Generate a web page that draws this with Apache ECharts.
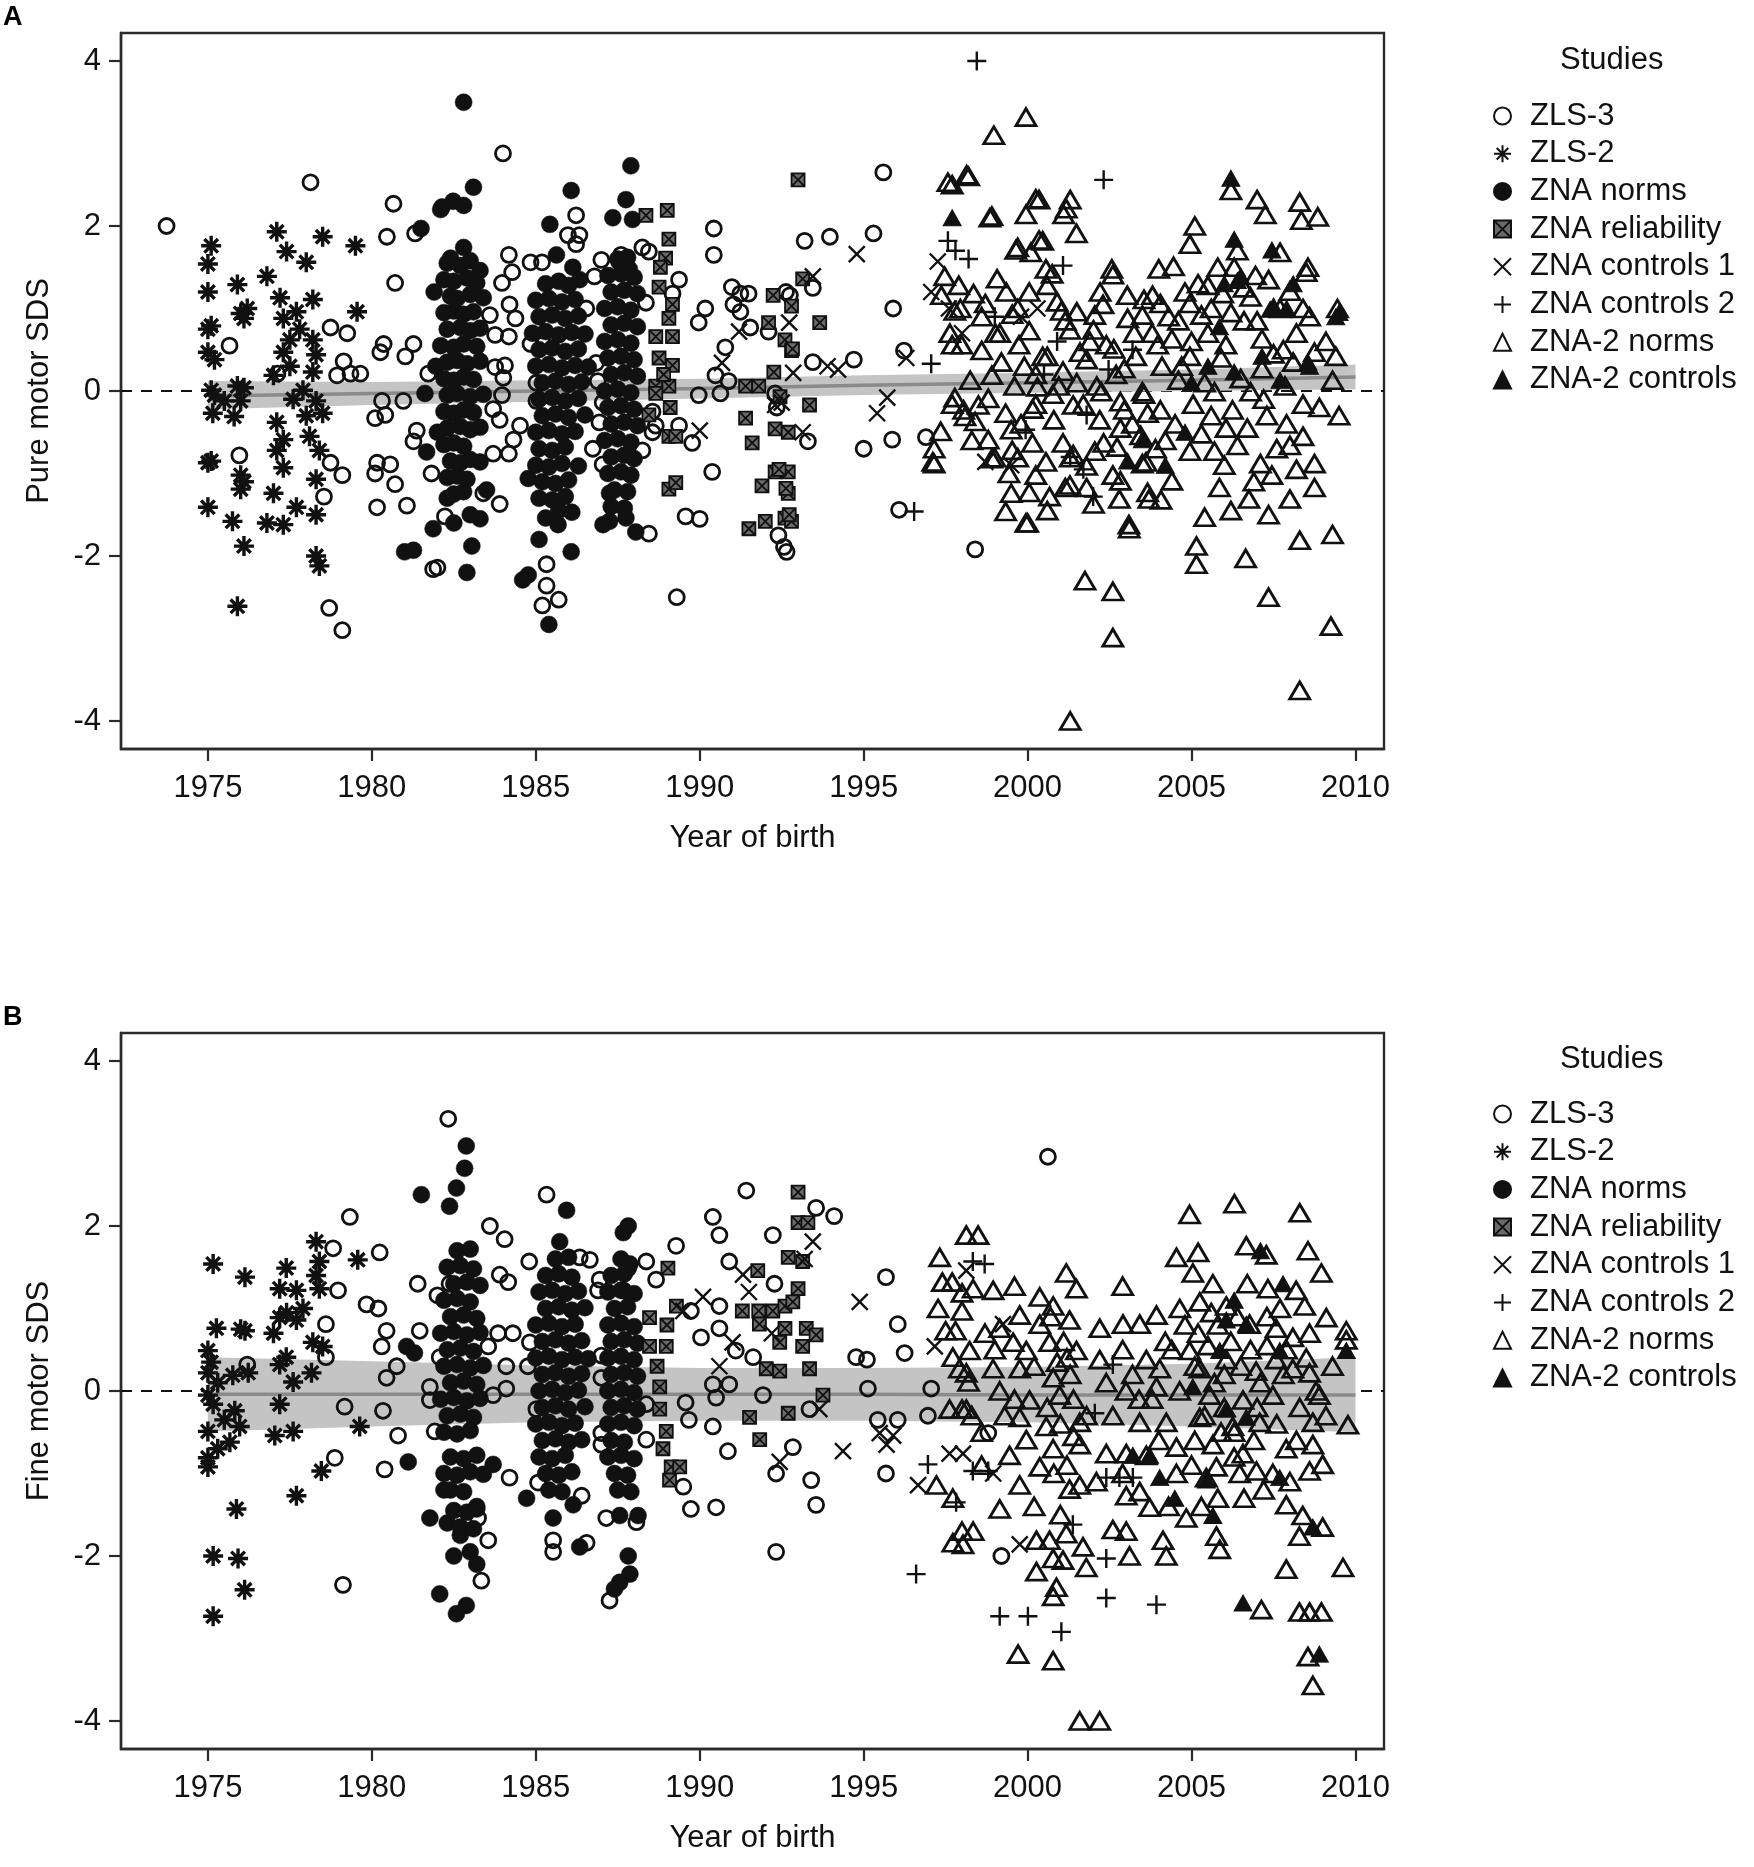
<!DOCTYPE html>
<html>
<head>
<meta charset="utf-8">
<script src="https://cdn.jsdelivr.net/npm/echarts@6/dist/echarts.min.js"></script>
<style>
html,body{margin:0;padding:0;background:#fff;}
#chart{width:1754px;height:1867px;}
</style>
</head>
<body>
<div id="chart"></div>
<script>
// ---------------- tick labels / categories ----------------
const xTicks = [1975, 1980, 1985, 1990, 1995, 2000, 2005, 2010];
const yTicks = [-4, -2, 0, 2, 4];
const studyNames = ['ZLS-3', 'ZLS-2', 'ZNA norms', 'ZNA reliability', 'ZNA controls 1', 'ZNA controls 2', 'ZNA-2 norms', 'ZNA-2 controls'];

// ---------------- Panel A: Pure motor SDS ----------------
const zls3A = [[1973.74,2.0],[1978.13,2.53],[1980.66,2.27],[1980.46,1.87],[1981.32,1.91],[1980.71,1.31],[1975.66,0.55],[1978.74,0.77],[1979.25,0.70],[1979.14,0.36],[1978.94,0.19],[1979.35,0.21],[1979.65,0.21],[1977.12,0.21],[1980.36,0.57],[1980.26,0.47],[1981.27,0.57],[1981.02,0.42],[1981.72,0.21],[1980.31,-0.12],[1980.96,-0.12],[1980.1,-0.33],[1980.41,-0.29],[1981.37,-0.48],[1981.27,-0.61],[1978.74,-0.87],[1979.1,-1.02],[1975.96,-0.78],[1980.16,-0.87],[1980.56,-0.89],[1980.1,-1.0],[1980.71,-1.13],[1981.82,-1.0],[1978.54,-1.28],[1980.16,-1.41],[1981.07,-1.39],[1982.23,-1.52],[1981.87,-2.16],[1978.7,-2.63],[1979.1,-2.9],[1982.0,-2.14],
[1984.0,2.88],[1986.23,2.13],[1985.98,1.89],[1986.33,1.89],[1986.23,1.78],[1984.18,1.65],[1984.84,1.56],[1985.19,1.56],[1984.28,1.44],[1983.97,1.31],[1987.0,1.59],[1986.79,1.39],[1987.6,1.65],[1988.25,1.74],[1988.45,1.69],[1990.43,1.97],[1990.43,1.65],[1989.37,1.35],[1989.17,1.18],[1988.36,1.07],[1990.98,1.26],[1991.24,1.18],[1991.49,1.18],[1991.03,1.05],[1991.24,0.96],[1991.54,0.77],[1990.17,1.0],[1989.97,0.83],[1990.78,0.53],[1990.48,0.19],[1989.97,-0.05],[1990.88,0.12],[1990.63,-0.03],[1992.3,-0.03],[1992.75,1.16],[1992.1,0.72],[1992.35,-0.2],[1989.77,-0.63],[1990.38,-0.98],[1989.57,-1.52],[1988.56,-0.25],[1988.66,-0.42],[1989.37,-0.42],[1992.65,-1.95],[1992.4,-1.75],[1983.6,0.92],[1984.2,1.05],[1984.38,0.88],[1983.76,0.68],[1984.18,0.66],[1984.84,0.57],[1985.24,0.57],[1983.76,0.29],[1984.01,0.16],[1984.06,0.31],[1983.97,-0.05],[1983.7,-0.22],[1983.9,-0.35],[1984.52,-0.42],[1984.32,-0.59],[1983.7,-0.76],[1984.18,-0.76],[1986.84,0.34],[1986.89,0.12],[1987.04,-0.14],[1986.94,-0.38],[1986.74,-0.7],[1985.02,0.1],[1985.02,-0.12],[1986.54,1.0],[1987.04,-0.89],[1983.4,-1.24],[1983.9,-1.37],[1985.33,-2.1],[1985.33,-2.36],[1985.78,-1.37],[1988.45,-1.73],[1988.25,-0.72],[1988.56,-0.5],[1985.7,-2.53],[1985.2,-2.6],[1989.3,-2.5],[1990.0,-1.55],
[1995.6,2.65],[1993.2,1.82],[1993.97,1.87],[1995.3,1.91],[1995.9,1.0],[1996.23,0.49],[1994.7,0.38],[1995.0,-0.7],[1995.87,-0.59],[1996.9,-0.56],[1996.08,-1.44],[1998.4,-1.92],[1992.57,-1.89],[1993.3,-0.61],[1993.45,0.35],[1992.63,1.2],[1993.45,1.25]];

const zls2A = [[1975.1,1.76],[1975.0,1.54],[1975.0,1.2],[1975.9,1.29],[1976.0,0.94],[1976.1,0.88],[1975.1,0.79],[1975.0,0.47],[1975.2,0.38],[1975.1,0.01],[1975.15,-0.27],[1975.9,0.06],[1976.0,-0.12],[1975.8,-0.31],[1975.0,-0.87],[1976.0,-1.02],[1976.0,-1.19],[1975.0,-1.41],[1975.75,-1.58],[1976.1,-1.88],[1975.9,-2.61],[1977.1,1.93],[1977.4,1.69],[1978.0,1.56],[1976.8,1.39],[1978.5,1.87],[1979.5,1.76],[1977.2,1.13],[1977.7,0.96],[1978.2,1.11],[1977.3,0.88],[1979.55,0.96],[1977.3,0.47],[1977.5,0.62],[1978.2,0.62],[1978.3,0.44],[1978.2,0.23],[1977.0,0.19],[1977.9,0.01],[1978.3,-0.12],[1978.5,-0.27],[1977.1,-0.38],[1977.3,-0.59],[1977.1,-0.72],[1978.1,-0.55],[1978.4,-0.72],[1977.3,-0.93],[1977.0,-1.24],[1977.7,-1.41],[1978.3,-1.07],[1978.3,-1.5],[1976.8,-1.6],[1977.3,-1.62],[1976.1,0.04],[1975.5,-0.12],[1978.4,-2.12],[1978.3,-2.0],[1975.0,0.75],[1975.2,-0.05],[1976.2,1.0],[1977.5,0.3],[1978.0,-0.3],[1977.6,-0.1],[1975.1,-0.85],[1976.1,-1.1],[1977.8,0.75]];

const znaNormsA = [[1982.8,3.5],[1983.1,2.47],[1982.8,2.25],[1982.14,2.23],[1986.08,2.43],[1987.9,2.73],[1985.43,2.02],[1987.35,2.1],[1987.75,2.32],[1987.95,2.08],[1985.63,1.65],[1982.8,1.74],[1982.4,1.61],[1983.3,1.46],[1986.13,1.5],[1986.34,1.35],[1987.55,1.56],[1987.85,1.48],[1981.5,1.97],[1982.1,2.2],[1982.48,2.3],[1981.62,-0.03],[1981.67,-0.74],[1981.0,-1.95],[1981.27,-1.93],[1981.87,-1.67],[1983.0,-1.5],[1983.05,-1.88],[1982.9,-2.2],[1984.77,-1.06],[1985.3,-1.54],[1985.68,-1.62],[1985.1,-1.8],[1986.08,-1.95],[1984.77,-2.23],[1985.4,-2.83],[1984.6,-2.29],[1987.25,-1.24],[1987.25,-1.58],[1987.75,-1.54],[1988.05,-1.71],[1987.05,-1.62],[1982.3,-1.3],[1982.5,-1.6],[1983.3,-1.55],[1983.5,-1.2],
[1982.3,1.55],[1982.7,1.52],[1983.0,1.58],[1982.2,1.35],[1982.5,1.33],[1982.9,1.37],[1983.2,1.31],[1982.4,1.15],[1982.6,1.12],[1983.0,1.17],[1983.4,1.13],[1982.2,0.95],[1982.5,0.97],[1982.8,0.93],[1983.1,0.96],[1982.3,0.75],[1982.7,0.77],[1983.0,0.73],[1983.3,0.76],[1982.1,0.55],[1982.5,0.53],[1982.8,0.57],[1983.2,0.54],[1982.3,0.35],[1982.6,0.37],[1982.9,0.33],[1983.3,0.36],[1982.2,0.15],[1982.5,0.13],[1982.8,0.17],[1983.1,0.14],[1982.3,-0.05],[1982.6,-0.03],[1983.0,-0.07],[1983.4,-0.04],[1982.2,-0.25],[1982.5,-0.27],[1982.8,-0.23],[1983.1,-0.26],[1982.3,-0.45],[1982.7,-0.43],[1983.0,-0.47],[1983.3,-0.44],[1982.2,-0.65],[1982.5,-0.63],[1982.8,-0.67],[1982.4,-0.85],[1982.7,-0.87],[1983.0,-0.83],[1983.3,-0.86],[1982.3,-1.05],[1982.6,-1.03],[1982.9,-1.07],[1982.5,-1.25],[1982.8,-1.22],[1981.9,1.2],[1981.95,0.3],[1982.0,-0.5],
[1985.3,1.3],[1985.7,1.33],[1986.0,1.28],[1985.0,1.1],[1985.4,1.12],[1985.8,1.08],[1986.2,1.11],[1985.1,0.9],[1985.5,0.92],[1985.9,0.88],[1986.3,0.91],[1984.9,0.7],[1985.3,0.72],[1985.7,0.68],[1986.1,0.71],[1986.5,0.69],[1985.1,0.5],[1985.5,0.52],[1985.9,0.48],[1986.3,0.51],[1985.0,0.3],[1985.4,0.32],[1985.8,0.28],[1986.2,0.31],[1986.6,0.29],[1985.2,0.1],[1985.6,0.12],[1986.0,0.08],[1986.4,0.11],[1985.1,-0.1],[1985.5,-0.08],[1985.9,-0.12],[1986.3,-0.09],[1985.2,-0.3],[1985.6,-0.28],[1986.0,-0.32],[1986.5,-0.29],[1985.0,-0.5],[1985.4,-0.48],[1985.8,-0.52],[1986.2,-0.49],[1985.1,-0.7],[1985.5,-0.72],[1985.9,-0.68],[1985.0,-0.9],[1985.4,-0.92],[1985.8,-0.88],[1986.3,-0.91],[1985.2,-1.1],[1985.6,-1.12],[1986.0,-1.08],[1985.1,-1.3],[1985.5,-1.32],[1985.9,-1.28],[1985.7,-1.45],[1986.1,-1.47],
[1987.5,1.6],[1987.8,1.62],[1987.2,1.4],[1987.6,1.42],[1988.0,1.38],[1987.3,1.2],[1987.7,1.22],[1988.1,1.18],[1987.1,1.0],[1987.5,1.02],[1987.9,0.98],[1987.3,0.8],[1987.7,0.82],[1988.1,0.78],[1987.1,0.6],[1987.5,0.62],[1987.9,0.58],[1987.2,0.4],[1987.6,0.42],[1988.0,0.38],[1987.3,0.2],[1987.7,0.22],[1988.1,0.18],[1987.1,0.0],[1987.5,0.02],[1987.9,-0.02],[1987.2,-0.2],[1987.6,-0.18],[1988.0,-0.22],[1987.3,-0.4],[1987.7,-0.38],[1988.1,-0.42],[1987.1,-0.6],[1987.5,-0.58],[1987.9,-0.62],[1987.3,-0.8],[1987.7,-0.78],[1988.0,-0.82],[1987.2,-1.0],[1987.6,-0.98],[1987.9,-1.02],[1987.4,-1.2],[1987.8,-1.22],[1987.3,-1.4],[1987.7,-1.42]];

const znaRelA = [[1988.36,2.13],[1989.01,2.19],[1989.06,1.84],[1988.96,1.61],[1988.76,1.26],[1989.17,1.05],[1989.06,0.88],[1988.66,0.66],[1989.17,0.66],[1988.76,0.4],[1989.17,0.31],[1988.66,0.06],[1989.06,0.06],[1988.66,-0.03],[1988.45,-0.29],[1989.06,-0.55],[1989.27,-0.55],[1989.06,-1.19],[1989.27,-1.11],[1993.0,2.56],[1992.24,1.16],[1992.8,1.03],[1992.1,0.83],[1992.6,0.62],[1992.8,0.49],[1992.26,0.23],[1991.4,0.06],[1991.8,0.06],[1992.45,-0.07],[1991.4,-0.33],[1991.6,-0.63],[1992.3,-0.46],[1992.7,-0.5],[1992.3,-0.98],[1992.7,-0.98],[1991.9,-1.15],[1992.7,-1.24],[1991.5,-1.67],[1992.0,-1.58],[1992.6,-1.54],[1992.8,-1.58],[1993.14,1.36],[1993.66,0.83],[1992.83,0.51],[1993.35,-0.17],[1992.42,-0.95],[1992.63,-1.18],[1992.73,-1.5],[1988.9,0.2],[1989.1,-0.2],[1988.8,1.5]];

const znaCtl1A = [[1991.2,0.72],[1990.68,0.34],[1990.0,-0.48],[1992.5,-0.14],[1994.79,1.66],[1993.45,1.39],[1992.73,0.83],[1992.85,0.22],[1994.22,0.26],[1995.41,-0.27],[1995.72,-0.08],[1992.3,-0.17],[1993.14,-0.5],[1997.26,1.57],[1997.06,1.2],[1998.71,-0.86],[1997.6,1.0],[1998.0,0.7],[1999.8,0.9],[2000.3,1.0],[1996.3,0.4],[1993.9,0.3],[1999.5,-0.9]];

const znaCtl2A = [[1998.45,4.0],[2002.32,2.56],[1997.57,1.82],[2001.08,1.52],[1997.06,0.33],[2002.47,0.26],[1999.94,-0.47],[2001.8,-0.29],[2002.0,-1.28],[1996.54,-1.46],[2001.7,-0.95],[1997.8,1.7],[1998.2,1.6],[1999.0,0.9],[2000.5,0.2],[2003.2,0.5],[2001.3,-0.8],[2000.9,0.6]];

const zna2NormsA = [[1998.97,3.1],[1999.95,3.32],[1997.7,2.5],[1998.2,2.6],[1999.95,2.14],[1998.85,2.1],[2000.35,2.32],[2001.3,2.32],[2001.1,2.14],[2000.35,1.83],[1999.7,1.74],[2000.1,1.68],[2000.75,1.42],[2002.6,1.41],[2003.55,1.11],[2004.45,1.51],[2005.1,2.0],[2006.2,2.43],[2007.0,2.32],[2007.25,2.14],[2008.3,2.29],[2008.35,2.07],[2008.85,2.11],[2008.5,1.44],[2009.45,1.0],[2007.7,1.68],[2006.4,1.7],[2004.95,1.78],[2005.95,1.18],[2006.95,1.4],[2004.0,1.48],[2003.05,0.88],[2002.05,0.92],[2001.5,0.96],[2000.9,1.08],[2000.6,1.28],[1999.7,1.0],[1999.35,1.2],[1998.35,1.18],[1997.9,1.28],[1997.95,1.0],[1997.7,0.56],[1998.25,0.13],[1998.6,0.49],[1999.15,0.7],[2000.05,0.73],[2000.6,0.42],[2001.15,0.85],[2001.6,0.47],[2002.4,0.56],[2003.3,0.42],[2004.4,0.63],[2004.95,0.42],[2005.5,0.7],[2006.05,0.56],[2006.6,0.85],[2007.15,0.63],[2007.7,1.0],[2008.2,0.7],[2008.75,0.47],[2009.4,0.42],[2009.3,0.13],[2009.5,-0.3],[2008.4,-0.16],[2007.85,0.06],[2007.3,-0.3],[2006.8,-0.01],[2006.25,-0.23],[2005.7,-0.01],[2005.05,-0.16],[2004.6,0.13],[2004.05,-0.23],[2003.5,-0.01],[2002.95,-0.23],[2002.25,-0.01],[2001.7,-0.16],[2000.95,0.06],[2000.25,-0.16],[1999.6,0.06],[1998.8,-0.09],[1998.05,-0.23],[1997.7,-0.16],[1997.15,-0.88],[1998.4,-0.37],[1998.8,-0.59],[1999.5,-0.47],[1999.0,-0.81],[1999.7,-0.81],[2000.25,-1.02],[1999.5,-1.24],[2000.0,-1.6],[2000.6,-1.45],[2001.15,-1.17],[2001.3,-0.81],[2002.05,-0.73],[2001.8,-1.17],[2002.6,-1.02],[2002.8,-1.31],[2003.1,-1.67],[2003.5,-0.88],[2003.7,-1.31],[2004.4,-1.09],[2004.95,-0.73],[2005.3,-0.52],[2005.7,-0.73],[2006.05,-0.45],[2006.4,-0.66],[2005.85,-1.17],[2005.15,-1.88],[2005.15,-2.1],[2005.4,-1.53],[2006.65,-2.03],[2007.35,-2.5],[2007.45,-1.02],[2007.1,-0.88],[2008.0,-0.66],[2008.2,-0.95],[2008.75,-1.17],[2008.75,-0.88],[2008.3,-1.81],[2008.3,-3.63],[2009.3,-1.74],[2009.25,-2.85],[2008.0,-1.31],[2002.6,-2.99],[2002.6,-2.43],[2001.75,-2.3],[2001.3,-4.0],[2007.35,-1.5],[2006.75,-1.31],[2006.2,-1.45],[1997.15,-0.7],[1997.35,-0.49],[2000.25,0.2],[2002.95,0.27],[2004.1,0.3],[2007.15,0.27],[2004.95,1.06],[2005.5,1.28],[2006.3,1.5],[2006.8,1.14],[2007.35,1.35],[2008.0,1.21],[2008.55,1.5],[2005.3,0.92],[2003.5,0.92],[2004.6,0.85],[2004.05,1.06],
[1997.57,2.53],[1998.14,2.62],[1998.91,2.12],[2000.25,2.33],[2001.18,2.21],[2001.49,1.91],[1999.64,1.71],[2000.46,1.82],[1999.07,1.36],[2000.56,1.48],[2002.57,1.48],[2002.21,1.2],[2003.04,1.16],[2003.81,1.16],[1997.47,1.39],[1997.37,1.16],[1997.63,0.7],[1997.78,0.97],[1998.71,1.06],[1999.53,0.93],[2000.05,1.2],[2001.03,0.97],[2001.29,0.74],[2002.01,0.74],[2002.63,0.51],[2003.25,0.7],[2003.97,0.56],[1997.99,0.56],[1999.02,0.7],[1999.74,0.56],[2000.46,0.42],[2001.08,0.24],[2001.8,0.38],[1998.91,0.19],[1997.78,-0.08],[1998.5,-0.17],[1999.33,-0.27],[2000.15,-0.22],[2000.77,-0.04],[2001.39,-0.17],[2002.11,0.06],[2002.83,-0.13],[2003.55,-0.04],[2003.66,-0.27],[2002.83,-0.45],[1998.09,-0.31],[1998.91,-0.82],[1999.53,-0.72],[2000.15,-0.63],[2000.56,-0.86],[2001.08,-0.63],[2001.39,-0.77],[2001.8,-0.91],[2002.32,-0.63],[2002.73,-0.68],[2003.45,-0.54],[2003.61,-0.86],[2002.83,-1.09],[1999.43,-1.0],[2000.05,-1.23],[2000.67,-1.28],[2001.29,-1.14],[2002.01,-1.37],[2003.66,-1.23],[2004.07,-1.32],[1999.33,-1.46],[1999.95,-1.6],[2003.09,-1.62],[1997.11,-0.86],
[2004.3,0.9],[2004.7,0.3],[2005.0,0.6],[2005.4,0.1],[2005.6,-0.3],[2005.9,0.4],[2006.2,0.95],[2006.5,0.15],[2006.7,-0.45],[2007.0,0.85],[2007.2,-0.1],[2007.5,0.45],[2007.9,-0.4],[2008.1,0.35],[2008.4,-0.55],[2008.6,0.9],[2008.9,-0.2],[2009.1,0.6],[2004.2,-0.6],[2004.5,-0.4],[2005.2,1.3],[2005.8,1.5],[2006.0,-0.9],[2006.9,-1.1],[2007.6,-0.7],[2004.8,1.2],[2003.8,0.7],[2003.2,-0.4],[2003.9,-0.7],[2002.7,0.2],[2002.2,-0.35],[2001.5,0.1],[2000.3,0.05],[1999.9,0.3],[1999.2,0.35],[1998.6,0.9],[1998.3,-0.6],[1999.8,-0.4],[2000.8,-0.35],[2001.9,0.6],[2002.3,1.05],[2005.6,1.0],[2006.6,1.25],[2007.8,0.5],[2008.4,1.0]];

const zna2CtlA = [[2006.2,2.58],[2007.45,1.71],[2009.5,0.95],[2008.55,0.35],[2006.4,1.34],[2005.85,0.78],[2007.15,0.42],[2007.7,0.13],[2003.5,-0.59],[2007.4,0.99],[2006.3,0.23],[1997.7,2.1],[2005.5,0.3],[2004.8,-0.5],[2003.05,-0.85],[2007.9,1.0],[2008.6,0.3],[2006.0,1.3],[2005.0,0.1],[2004.2,-0.9],[2006.3,1.84],[2006.5,1.39],[2007.5,1.03],[2009.4,0.9],[2008.1,1.3]];

// regression fit and confidence band, panel A
const bandYearsA = [1975, 1980, 1985, 1990, 1995, 2000, 2005, 2010];
const fitA  = [-0.06, -0.03, 0.0, 0.03, 0.07, 0.1, 0.13, 0.17];
const lowA  = [-0.22, -0.17, -0.13, -0.09, -0.05, -0.02, 0.0, 0.02];
const highA = [0.12, 0.11, 0.13, 0.15, 0.19, 0.22, 0.26, 0.32];

// ---------------- Panel B: Fine motor SDS ----------------
const zls3B = [[1982.33,3.3],[1979.33,2.11],[1978.82,1.73],[1980.24,1.68],[1978.97,1.22],[1979.84,1.05],[1980.2,1.0],[1978.6,0.81],[1980.45,0.73],[1980.3,0.54],[1978.6,0.41],[1980.76,0.3],[1980.45,0.16],[1979.17,-0.19],[1980.34,-0.24],[1980.8,-0.54],[1978.87,-0.81],[1980.39,-0.95],[1979.12,-2.35],[1983.6,2.0],[1984.05,1.84],[1984.8,1.57],[1985.33,2.38],[1983.9,1.41],[1984.16,1.32],[1981.4,1.3],[1982.0,1.16],[1982.37,1.3],[1981.46,0.73],[1983.85,0.7],[1984.3,0.7],[1984.82,0.59],[1983.55,0.54],[1984.1,0.3],[1984.76,0.3],[1984.1,0.03],[1983.7,-0.05],[1982.07,0.41],[1981.77,0.05],[1981.77,-0.11],[1981.92,-0.49],[1985.02,-0.22],[1984.2,-1.05],[1985.07,-1.11],[1983.55,-1.81],[1983.34,-2.3],[1985.53,-1.81],[1985.53,-1.95],[1983.24,-1.54],[1976.2,0.32],
[1991.42,2.43],[1990.4,2.11],[1990.6,1.89],[1992.23,1.89],[1993.55,2.22],[1994.1,2.12],[1989.28,1.76],[1988.37,1.57],[1990.9,1.57],[1992.28,1.3],[1995.68,1.38],[1986.34,1.62],[1986.65,1.59],[1986.95,1.35],[1986.9,1.22],[1988.67,1.35],[1989.73,0.97],[1990.04,0.65],[1990.6,1.03],[1990.6,0.76],[1991.1,0.49],[1991.63,0.41],[1996.04,0.81],[1996.25,0.46],[1994.77,0.41],[1995.1,0.38],[1987.0,0.43],[1987.0,0.16],[1990.4,0.08],[1990.9,0.08],[1990.5,-0.08],[1991.93,-0.05],[1993.35,-0.22],[1995.13,0.03],[1997.06,0.03],[1996.96,-0.3],[1989.57,-0.14],[1989.67,-0.35],[1990.4,-0.43],[1995.43,-0.35],[1996.04,-0.35],[1990.86,-0.73],[1992.84,-0.68],[1992.33,-1.0],[1993.4,-1.08],[1993.55,-1.38],[1995.68,-1.0],[1989.73,-1.43],[1990.5,-1.41],[1989.5,-1.16],[1992.33,-1.95],[1987.0,-0.51],[1987.0,-0.65],[1986.4,-1.27],[1987.15,-1.54],[1986.55,-1.84],[1988.07,-1.59],[1987.25,-2.54],[1988.37,-0.16],[1988.37,-0.59],[1987.82,1.49],[1987.67,1.22],
[2000.62,2.84],[1998.8,-0.51],[1999.2,-2.0]];

const zls2B = [[1975.16,1.54],[1976.13,1.38],[1975.26,0.76],[1976.13,0.73],[1975.0,0.49],[1975.0,0.22],[1975.76,0.19],[1976.23,0.22],[1975.0,-0.05],[1975.16,-0.16],[1975.82,-0.24],[1975.97,-0.43],[1975.0,-0.49],[1975.67,-0.62],[1975.0,-0.81],[1975.0,-0.92],[1975.87,-1.43],[1975.16,-2.0],[1975.92,-2.03],[1976.12,-2.41],[1975.16,-2.73],[1978.3,1.81],[1977.39,1.49],[1978.4,1.57],[1977.19,1.24],[1977.7,1.22],[1978.4,1.24],[1977.19,0.89],[1977.7,0.86],[1978.2,0.59],[1978.5,0.54],[1977.19,0.32],[1977.39,0.41],[1977.6,0.11],[1978.16,0.22],[1977.19,-0.16],[1977.04,-0.54],[1977.6,-0.49],[1978.46,-0.97],[1977.7,-1.27],[1979.57,1.59],[1979.63,-0.43],[1975.3,0.1],[1975.5,-0.35],[1977.0,0.7],[1977.9,1.0],[1978.3,1.4],[1977.4,0.95],[1975.1,0.35],[1975.3,-0.7],[1976.0,0.75]];

const znaNormsB = [[1982.88,2.97],[1982.83,2.7],[1982.58,2.46],[1981.51,2.38],[1982.37,2.24],[1981.06,0.54],[1981.3,0.46],[1981.11,-0.86],[1983.7,-0.89],[1981.77,-1.54],[1982.07,-2.46],[1982.58,-2.7],[1982.88,-2.6],[1984.72,-1.3],[1985.53,-1.54],[1985.94,2.19],[1987.82,2.0],[1987.67,1.92],[1985.73,1.81],[1987.87,1.54],[1986.14,-1.38],[1986.34,-1.89],[1987.56,-1.51],[1988.12,-1.51],[1987.82,-2.0],[1987.87,-2.22],[1987.56,-2.32],[1987.4,-2.4],[1982.3,-1.6],[1982.7,-1.75],[1983.0,-1.95],[1983.2,-2.1],[1982.5,-2.0],[1982.2,-1.2],[1983.2,-1.4],
[1982.6,1.7],[1983.0,1.72],[1982.3,1.5],[1982.7,1.52],[1983.1,1.48],[1982.5,1.3],[1982.9,1.32],[1983.3,1.28],[1982.2,1.1],[1982.6,1.12],[1983.0,1.08],[1982.4,0.9],[1982.8,0.92],[1983.2,0.88],[1982.1,0.7],[1982.5,0.72],[1982.9,0.68],[1983.3,0.71],[1982.3,0.5],[1982.7,0.52],[1983.1,0.48],[1982.2,0.3],[1982.6,0.32],[1983.0,0.28],[1983.4,0.31],[1982.4,0.1],[1982.8,0.12],[1983.2,0.08],[1982.1,-0.1],[1982.5,-0.08],[1982.9,-0.12],[1983.3,-0.09],[1982.3,-0.3],[1982.7,-0.28],[1983.1,-0.32],[1982.2,-0.5],[1982.6,-0.52],[1983.0,-0.48],[1982.4,-0.8],[1982.8,-0.82],[1983.2,-0.78],[1982.2,-1.0],[1982.6,-1.02],[1983.0,-0.98],[1983.4,-1.01],[1982.4,-1.2],[1982.8,-1.22],[1982.5,-1.45],[1982.9,-1.47],[1983.2,-1.43],[1982.7,-1.65],[1983.1,-1.67],
[1985.6,1.6],[1986.0,1.62],[1985.3,1.4],[1985.7,1.42],[1986.1,1.38],[1985.1,1.2],[1985.5,1.22],[1985.9,1.18],[1986.3,1.21],[1985.3,1.0],[1985.7,1.02],[1986.1,0.98],[1986.5,1.01],[1985.0,0.8],[1985.4,0.82],[1985.8,0.78],[1986.2,0.81],[1985.2,0.6],[1985.6,0.62],[1986.0,0.58],[1986.4,0.61],[1985.0,0.4],[1985.4,0.42],[1985.8,0.38],[1986.2,0.41],[1986.6,0.39],[1985.2,0.2],[1985.6,0.22],[1986.0,0.18],[1986.4,0.21],[1985.1,0.0],[1985.5,0.02],[1985.9,-0.02],[1986.3,0.01],[1985.2,-0.2],[1985.6,-0.18],[1986.0,-0.22],[1986.5,-0.19],[1985.0,-0.4],[1985.4,-0.38],[1985.8,-0.42],[1986.2,-0.39],[1985.2,-0.6],[1985.6,-0.58],[1986.0,-0.62],[1986.4,-0.59],[1985.1,-0.8],[1985.5,-0.82],[1985.9,-0.78],[1985.3,-1.0],[1985.7,-1.02],[1986.1,-0.98],[1985.4,-1.2],[1985.8,-1.22],
[1987.6,1.6],[1987.3,1.4],[1987.7,1.42],[1987.2,1.2],[1987.6,1.22],[1988.0,1.18],[1987.4,1.0],[1987.8,1.02],[1987.2,0.8],[1987.6,0.82],[1988.0,0.78],[1987.3,0.6],[1987.7,0.62],[1988.1,0.58],[1987.2,0.4],[1987.6,0.42],[1988.0,0.38],[1987.3,0.2],[1987.7,0.22],[1988.1,0.18],[1987.2,0.0],[1987.6,0.02],[1988.0,-0.02],[1987.3,-0.2],[1987.7,-0.18],[1988.1,-0.22],[1987.2,-0.4],[1987.6,-0.38],[1988.0,-0.42],[1987.3,-0.6],[1987.7,-0.62],[1987.2,-0.8],[1987.6,-0.78],[1988.0,-0.82],[1987.4,-1.0],[1987.8,-1.02],[1987.5,-1.2],[1987.9,-1.22]];

const znaRelB = [[1993.0,2.41],[1993.0,2.04],[1993.3,2.04],[1992.7,1.62],[1993.14,1.57],[1991.77,1.46],[1989.03,1.49],[1993.0,1.24],[1991.3,0.97],[1991.8,0.97],[1992.23,0.97],[1992.6,1.03],[1992.84,1.08],[1991.82,0.81],[1992.6,0.76],[1993.25,0.76],[1993.55,0.68],[1992.44,0.59],[1993.14,0.54],[1992.03,0.27],[1992.44,0.24],[1993.35,0.27],[1993.76,-0.05],[1991.52,-0.32],[1992.7,-0.27],[1991.83,-0.59],[1988.47,0.89],[1988.98,0.54],[1989.29,1.03],[1988.47,0.54],[1988.78,0.05],[1988.78,-0.22],[1988.98,-0.49],[1988.88,-0.7],[1989.13,-0.92],[1989.08,-1.08],[1989.39,-0.92],[1988.7,0.3],[1989.0,0.8]];

const znaCtl1B = [[1993.45,1.81],[1991.32,1.41],[1994.88,1.08],[1990.1,1.14],[1991.0,0.59],[1990.6,0.3],[1993.65,-0.22],[1992.44,-0.86],[1994.37,-0.73],[1995.49,-0.51],[1995.9,-0.54],[1995.7,-0.65],[1997.17,0.54],[1996.66,-1.14],[1997.62,-0.76],[1989.5,0.97],[1998.13,1.46],[1999.25,0.81],[1998.03,-0.76],[1998.95,-1.0],[1999.76,-1.86],[1992.2,0.7],[1991.5,1.2],[1993.2,1.6]];

const znaCtl2B = [[1996.6,-2.22],[1996.96,-0.89],[1998.33,1.57],[1998.33,-0.97],[1997.82,-1.35],[1998.69,1.54],[2002.6,0.32],[2002.05,-0.27],[2002.4,-1.05],[2002.8,-1.05],[2003.21,-1.05],[2002.4,-2.03],[2001.38,-1.62],[2002.4,-2.51],[2003.93,-2.59],[1999.15,-2.73],[2000.01,-2.73],[2001.03,-2.92],[1998.8,-0.97]];

const zna2NormsB = [[1998.13,1.89],[1997.32,1.62],[1997.4,1.32],[1997.7,1.32],[1998.0,1.19],[1997.27,1.0],[1998.0,0.97],[1997.5,0.73],[1997.8,0.73],[1997.72,0.41],[1997.92,0.27],[1998.2,0.11],[1997.62,-0.22],[1998.0,-0.22],[1998.3,-0.3],[1997.22,-1.14],[1997.72,-1.3],[1998.0,-1.7],[1997.72,-1.84],
[1998.49,1.89],[2001.18,1.43],[2001.49,1.24],[2002.9,1.27],[2004.94,2.14],[2006.31,2.27],[2008.3,2.16],[2004.54,1.62],[2005.2,1.68],[2006.67,1.76],[2007.28,1.65],[2008.55,1.7],[2008.96,1.43],[2005.04,1.43],[2005.65,1.3],[2007.33,1.24],[2008.19,1.22],[2008.45,1.03],[2009.11,0.89],[2009.72,0.73],[2009.72,0.62],[1998.34,1.24],[1998.95,1.22],[1999.6,1.27],[2000.37,1.14],[2000.78,1.03],[1999.76,0.92],[2000.37,0.81],[2001.28,0.86],[1999.15,0.76],[1999.56,0.59],[1999.96,0.49],[2000.67,0.59],[2002.2,0.76],[2002.91,0.81],[2003.42,0.81],[2003.93,0.92],[2004.64,1.0],[2005.25,1.08],[2006.06,1.03],[2006.77,0.81],[2007.58,0.76],[2008.09,0.65],[2008.6,0.7],[1998.23,0.49],[1998.13,0.22],[1998.95,0.27],[1999.76,0.27],[2000.78,0.16],[2001.49,0.49],[2002.2,0.38],[2003.62,0.38],[2004.03,0.27],[2004.94,0.49],[2005.25,0.27],[2006.06,0.38],[2006.97,0.24],[2007.58,0.38],[2008.09,0.27],[2008.6,0.22],[1999.15,0.0],[2000.06,-0.11],[2000.98,-0.05],[2003.0,0.0],[2003.93,0.05],[2004.64,0.0],[2005.55,-0.05],[2006.57,-0.11],[2007.48,-0.05],[2008.9,-0.05],[1998.13,-0.22],[1999.76,-0.32],[2000.57,-0.43],[2001.59,-0.38],[2003.42,-0.38],[2004.23,-0.38],[2005.25,-0.32],[2006.26,-0.43],[2007.08,-0.38],[2008.7,-0.38],[2009.77,-0.41],[1999.96,-0.59],[2000.78,-0.7],[2001.59,-0.65],[2002.4,-0.76],[2003.01,-0.76],[2003.62,-0.78],[2004.54,-0.68],[2005.65,-0.65],[2006.57,-0.76],[2007.89,-0.7],[2008.7,-0.65],[2009.0,-0.89],[1999.45,-0.78],[1999.76,-1.14],[2000.37,-0.92],[2001.28,-1.19],[2001.59,-1.14],[2003.01,-1.27],[2003.42,-1.22],[2004.54,-1.0],[2005.45,-1.05],[2005.76,-0.92],[2006.47,-1.0],[2006.98,-0.97],[2007.48,-1.0],[2008.6,-0.97],[2007.89,-1.38],[2008.39,-1.51],[2009.0,-1.65],[2008.29,-1.76],[2003.72,-1.41],[2004.84,-1.54],[2002.6,-1.68],[2003.01,-1.7],[2004.13,-1.81],[2005.76,-1.76],[2005.86,-1.92],[1999.15,-1.43],[1998.34,-1.7],[1998.03,-1.86],[2000.27,-1.81],[2000.67,-1.81],[2001.18,-1.73],[2001.69,-1.89],[2000.78,-2.03],[2001.08,-2.05],[2001.79,-2.14],[2000.27,-2.19],[2003.11,-2.0],[2004.23,-2.0],[2000.88,-2.38],[2000.78,-2.49],[2007.89,-2.16],[2009.62,-2.14],[2007.13,-2.65],[2008.29,-2.68],[2008.6,-2.68],[2008.96,-2.68],[2008.55,-3.22],[2008.7,-3.57],[1999.71,-3.19],[2000.78,-3.27],[2001.59,-4.0],[2002.2,-4.0],
[2000.9,0.35],[2001.1,0.6],[2001.3,0.2],[2000.6,-0.2],[2001.0,-0.4],[2001.2,-0.9],[2000.8,-1.0],[2001.4,-0.55],[2005.2,0.7],[2005.5,0.55],[2005.8,0.8],[2006.2,0.6],[2006.5,0.3],[2005.7,0.1],[2006.0,-0.2],[2006.9,-0.6],[2007.3,0.55],[2005.1,-0.6],[2005.9,-0.5],[2006.3,-0.8],[2007.1,0.1],[2004.2,0.6],[1998.6,-0.5],[1999.3,-0.3],[1998.7,0.7],[2002.6,-0.3],[2003.2,0.2],[2003.8,-0.1],[2007.8,0.2],[2008.3,-0.2],[2009.3,0.3],[2009.1,-0.3],
[2004.8,0.8],[2005.1,0.3],[2005.4,-0.3],[2005.6,0.95],[2006.0,0.2],[2006.3,-0.5],[2006.4,0.9],[2006.8,0.5],[2007.0,-0.2],[2007.3,0.9],[2007.6,-0.4],[2007.9,0.5],[2008.2,-0.6],[2008.5,0.4],[2008.8,0.0],[2005.0,-0.9],[2005.8,-1.3],[2006.6,-1.3],[2007.2,-1.2],[2004.4,0.5],[2004.0,-0.6],[2003.4,-0.1],[2002.9,0.5],[2002.4,0.1],[2001.8,-0.3],[2001.2,0.4],[2000.7,0.9],[2000.2,0.3],[1999.6,-0.1],[1999.0,0.5],[1998.6,-0.9],[2000.2,-1.4],[2001.0,-1.5],[2002.1,-1.1],[2002.9,-1.0],[2004.3,-1.4],[2005.3,-1.4],[2001.4,-0.1],[2006.7,1.3],[2007.7,1.0],[2008.0,-1.1]];

const zna2CtlB = [[2007.79,1.3],[2009.72,0.49],[2003.72,-0.78],[2003.21,-0.78],[2004.03,-1.05],[2004.49,-1.3],[2005.65,-1.51],[2006.57,-2.57],[2008.9,-3.19],[2006.06,0.86],[2006.67,0.81],[2005.86,0.49],[2007.69,0.49],[2005.04,0.05],[2006.06,-0.22],[2006.67,-0.32],[2005.45,-1.08],[2007.69,-1.05],[2008.7,-1.65],[2007.1,1.7],[2006.3,1.1]];

// regression fit and confidence band, panel B
const bandYearsB = [1975, 1980, 1985, 1990, 1995, 2000, 2005, 2010];
const fitB  = [-0.04, -0.04, -0.04, -0.04, -0.04, -0.05, -0.05, -0.05];
const lowB  = [-0.49, -0.43, -0.38, -0.36, -0.36, -0.38, -0.43, -0.5];
const highB = [0.41, 0.36, 0.31, 0.28, 0.28, 0.29, 0.33, 0.41];

// ---------------- styling ----------------
const FONT = "'Liberation Sans', Arial, Helvetica, sans-serif";
const INK = '#111111';
const CLEAR = 'rgba(255,255,255,0)';
const P_AST = 'path://M5 0L5 10M0 5L10 5M1.6 1.6L8.4 8.4M8.4 1.6L1.6 8.4';
const P_X = 'path://M0 0L10 10M10 0L0 10';
const P_PLUS = 'path://M5 0L5 10M0 5L10 5';
const P_BOXX = 'path://M0 0L10 0L10 10L0 10Z M0 0L10 10 M10 0L0 10';

const styles = {
  'ZLS-3':          { symbol: 'circle',   symbolSize: 15, itemStyle: { color: CLEAR, borderColor: INK, borderWidth: 2.8, opacity: 1 } },
  'ZLS-2':          { symbol: P_AST,      symbolSize: 20, itemStyle: { color: CLEAR, borderColor: INK, borderWidth: 3.4, opacity: 1 } },
  'ZNA norms':      { symbol: 'circle',   symbolSize: 17, itemStyle: { color: INK, borderColor: INK, borderWidth: 0.5, opacity: 1 } },
  'ZNA reliability':{ symbol: P_BOXX,     symbolSize: 13, itemStyle: { color: '#6a6a6a', borderColor: INK, borderWidth: 1.8, opacity: 1 } },
  'ZNA controls 1': { symbol: P_X,        symbolSize: 16, itemStyle: { color: CLEAR, borderColor: INK, borderWidth: 2.4, opacity: 1 } },
  'ZNA controls 2': { symbol: P_PLUS,     symbolSize: 19, itemStyle: { color: CLEAR, borderColor: INK, borderWidth: 2.4, opacity: 1 } },
  'ZNA-2 norms':    { symbol: 'triangle', symbolSize: [20, 17], itemStyle: { color: CLEAR, borderColor: INK, borderWidth: 2.8, opacity: 1 } },
  'ZNA-2 controls': { symbol: 'triangle', symbolSize: [18, 16], itemStyle: { color: INK, borderColor: INK, borderWidth: 1, opacity: 1 } }
};

const panelData = [
  [zls3A, zls2A, znaNormsA, znaRelA, znaCtl1A, znaCtl2A, zna2NormsA, zna2CtlA],
  [zls3B, zls2B, znaNormsB, znaRelB, znaCtl1B, znaCtl2B, zna2NormsB, zna2CtlB]
];
const bands = [
  { years: bandYearsA, fit: fitA, low: lowA, high: highA },
  { years: bandYearsB, fit: fitB, low: lowB, high: highB }
];
const yTitles = ['Pure motor SDS', 'Fine motor SDS'];
const gridTops = [33, 1033];

const grids = [], xAxes = [], yAxes = [], series = [], legends = [];
for (let p = 0; p < 2; p++) {
  grids.push({ left: 121, top: gridTops[p], width: 1263, height: 716, show: true, borderColor: '#2a2a2a', borderWidth: 2.4, backgroundColor: 'transparent', containLabel: false });
  xAxes.push({
    type: 'value', gridIndex: p, min: 1972.35, max: 2010.87,
    name: 'Year of birth', nameLocation: 'middle', nameGap: 74,
    nameTextStyle: { fontFamily: FONT, fontSize: 31, color: INK },
    axisLine: { show: true, onZero: false, lineStyle: { color: '#2a2a2a', width: 2.4 } },
    axisTick: { show: true, length: 12, customValues: xTicks, lineStyle: { color: '#2a2a2a', width: 2.2 } },
    axisLabel: { customValues: xTicks, margin: 24, fontFamily: FONT, fontSize: 31, color: INK, formatter: v => String(v) },
    splitLine: { show: false }
  });
  yAxes.push({
    type: 'value', gridIndex: p, min: -4.34, max: 4.34,
    name: yTitles[p], nameLocation: 'middle', nameGap: 66, nameRotate: 90,
    nameTextStyle: { fontFamily: FONT, fontSize: 31, color: INK },
    axisLine: { show: true, onZero: false, lineStyle: { color: '#2a2a2a', width: 2.4 } },
    axisTick: { show: true, length: 12, customValues: yTicks, lineStyle: { color: '#2a2a2a', width: 2.2 } },
    axisLabel: { customValues: yTicks, margin: 20, fontFamily: FONT, fontSize: 31, color: INK, formatter: v => String(v) },
    splitLine: { show: false }
  });

  // zero reference line (dashed), drawn under the band
  series.push({
    type: 'line', name: 'ref' + p, xAxisIndex: p, yAxisIndex: p, data: [], z: 1, silent: true,
    markLine: { silent: true, z: 1, symbol: ['none', 'none'], label: { show: false },
      emphasis: { disabled: true },
      lineStyle: { color: '#111', width: 2, type: [11, 9] }, data: [{ yAxis: 0 }] }
  });
  // confidence band (above the dashed line)
  const b = bands[p];
  series.push({
    type: 'custom', name: 'band' + p, xAxisIndex: p, yAxisIndex: p, z: 10, silent: true,
    data: b.years.map((y, i) => [y, b.low[i], b.high[i]]),
    renderItem: function (params, api) {
      if (params.dataIndex !== 0) return null;
      const pts = [];
      for (let i = 0; i < b.years.length; i++) pts.push(api.coord([b.years[i], b.low[i]]));
      for (let i = b.years.length - 1; i >= 0; i--) pts.push(api.coord([b.years[i], b.high[i]]));
      return { type: 'polygon', shape: { points: pts }, style: { fill: '#c4c4c4', stroke: null } };
    }
  });
  // fitted line
  series.push({
    type: 'line', name: 'fit' + p, xAxisIndex: p, yAxisIndex: p, z: 11, silent: true,
    data: b.years.map((y, i) => [y, b.fit[i]]), showSymbol: false, symbol: 'none',
    lineStyle: { color: '#8a8a8a', width: 3.5 }
  });
  // scatter series
  studyNames.forEach((nm, k) => {
    const st = styles[nm];
    series.push({
      type: 'scatter', name: nm, xAxisIndex: p, yAxisIndex: p, z: 12 + k, silent: true,
      data: panelData[p][k], symbol: st.symbol, symbolSize: st.symbolSize, itemStyle: st.itemStyle,
      emphasis: { disabled: true }
    });
  });

  legends.push({
    data: studyNames, orient: 'vertical', left: 1488, top: (p === 0 ? 95 : 1093),
    itemWidth: 17, itemHeight: 17, itemGap: 5.7, selectedMode: false,
    textStyle: { fontFamily: FONT, fontSize: 31, color: INK, lineHeight: 32, padding: [0, 0, 0, 14] }
  });
}

const chart = echarts.init(document.getElementById('chart'), null, { renderer: 'canvas', width: 1754, height: 1867 });
chart.setOption({
  backgroundColor: '#ffffff',
  animation: false,
  grid: grids, xAxis: xAxes, yAxis: yAxes, series: series, legend: legends,
  graphic: [
    { type: 'text', left: 3, top: 4, style: { text: 'A', font: "bold 27px " + FONT, fill: '#000' } },
    { type: 'text', left: 3, top: 1004, style: { text: 'B', font: "bold 27px " + FONT, fill: '#000' } },
    { type: 'text', left: 1560, top: 45, style: { text: 'Studies', font: "31px " + FONT, fill: INK } },
    { type: 'text', left: 1560, top: 1044, style: { text: 'Studies', font: "31px " + FONT, fill: INK } }
  ]
});
</script>
</body>
</html>
